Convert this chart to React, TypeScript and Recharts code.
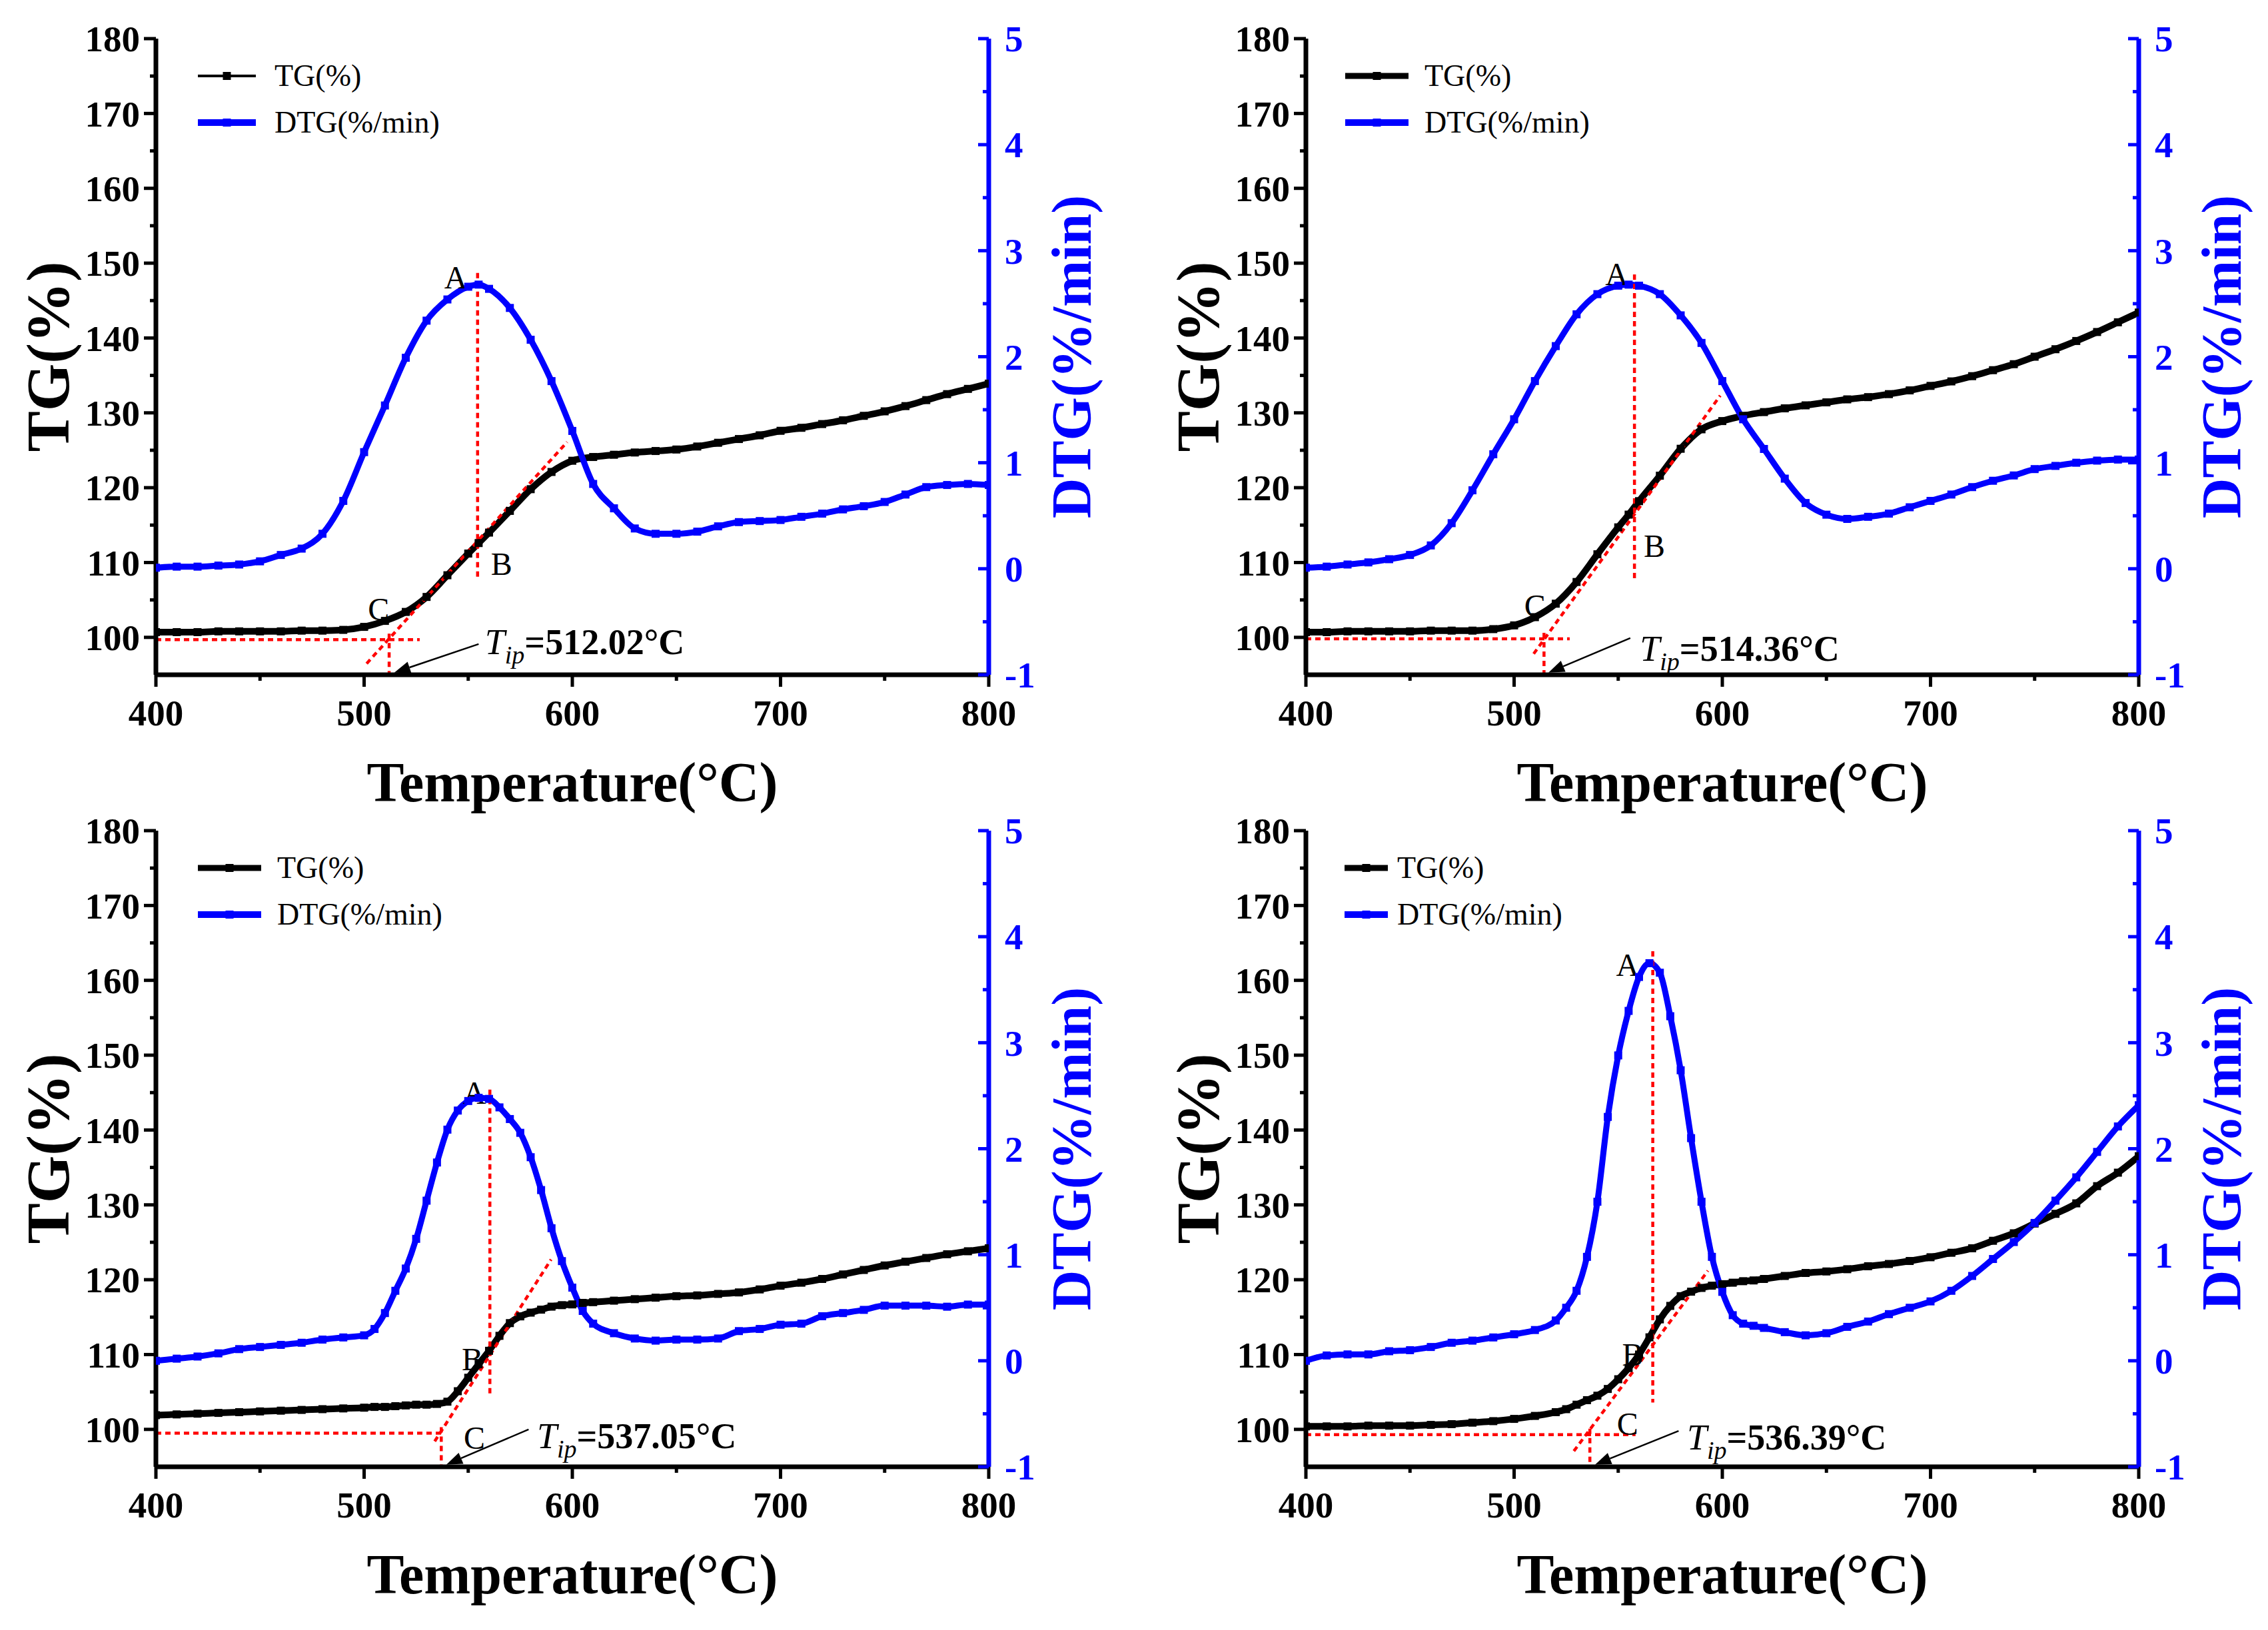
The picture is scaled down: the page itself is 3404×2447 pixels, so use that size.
import React from 'react';
import { LineChart, Line, XAxis, YAxis, ReferenceLine, ReferenceDot, Legend } from 'recharts';

const FONT = '"Liberation Serif", "Times New Roman", Times, serif';
const BLUE = '#0000FF';
const RED = '#FF0000';
const TG_NAME = 'TG(%)';
const DTG_NAME = 'DTG(%/min)';

// temperature (°C) sample points per panel
const tempA = [400, 410, 420, 430, 440, 450, 460, 470, 480, 490, 500, 510, 520, 530, 540, 550, 555, 560, 570, 580, 590, 600, 610, 620, 630, 640, 650, 660, 670, 680, 690, 700, 710, 720, 730, 740, 750, 760, 770, 780, 790, 800];
const tgA = [100.7, 100.7, 100.7, 100.8, 100.8, 100.8, 100.8, 100.9, 100.9, 101.0, 101.4, 102.2, 103.4, 105.4, 108.3, 111.2, 112.6, 114.0, 116.9, 119.8, 122.1, 123.6, 124.1, 124.4, 124.7, 124.9, 125.1, 125.5, 126.0, 126.5, 127.0, 127.6, 128.0, 128.5, 129.0, 129.6, 130.2, 130.9, 131.7, 132.5, 133.2, 133.9];
const dtgA = [0.01, 0.02, 0.02, 0.03, 0.04, 0.07, 0.13, 0.19, 0.33, 0.64, 1.10, 1.54, 1.99, 2.34, 2.54, 2.66, 2.68, 2.64, 2.46, 2.16, 1.77, 1.30, 0.80, 0.57, 0.38, 0.33, 0.33, 0.35, 0.40, 0.44, 0.45, 0.46, 0.49, 0.52, 0.56, 0.59, 0.63, 0.70, 0.77, 0.79, 0.80, 0.79];

const tempB = tempA;
const tgB = [100.7, 100.7, 100.8, 100.8, 100.8, 100.8, 100.9, 100.9, 100.9, 101.1, 101.6, 102.7, 104.5, 107.4, 111.1, 114.7, 116.4, 118.2, 121.6, 125.2, 127.8, 128.9, 129.6, 130.1, 130.6, 131.0, 131.4, 131.8, 132.1, 132.5, 133.0, 133.6, 134.2, 134.9, 135.7, 136.5, 137.5, 138.5, 139.6, 140.8, 142.1, 143.4];
const dtgB = [0.01, 0.02, 0.04, 0.06, 0.09, 0.13, 0.22, 0.43, 0.74, 1.08, 1.41, 1.77, 2.10, 2.40, 2.59, 2.67, 2.68, 2.67, 2.59, 2.39, 2.13, 1.77, 1.41, 1.13, 0.85, 0.62, 0.51, 0.47, 0.49, 0.52, 0.58, 0.64, 0.70, 0.77, 0.83, 0.88, 0.94, 0.97, 1.00, 1.02, 1.03, 1.03];

const tempC = [400, 410, 420, 430, 440, 450, 460, 470, 480, 490, 500, 505, 510, 515, 520, 525, 530, 535, 540, 545, 550, 555, 560, 565, 570, 575, 580, 585, 590, 595, 600, 605, 610, 620, 630, 640, 650, 660, 670, 680, 690, 700, 710, 720, 730, 740, 750, 760, 770, 780, 790, 800];
const tgC = [101.9, 102.0, 102.1, 102.2, 102.3, 102.4, 102.5, 102.6, 102.7, 102.8, 102.9, 103.0, 103.0, 103.1, 103.2, 103.3, 103.3, 103.4, 103.7, 105.1, 106.9, 108.7, 110.5, 112.5, 114.2, 115.1, 115.6, 116.0, 116.4, 116.6, 116.7, 116.9, 117.0, 117.2, 117.4, 117.6, 117.8, 117.9, 118.1, 118.3, 118.7, 119.2, 119.6, 120.1, 120.7, 121.3, 121.9, 122.4, 122.9, 123.4, 123.8, 124.2];
const dtgC = [0.0, 0.02, 0.04, 0.07, 0.11, 0.13, 0.15, 0.17, 0.20, 0.22, 0.24, 0.30, 0.45, 0.66, 0.87, 1.15, 1.51, 1.87, 2.18, 2.36, 2.45, 2.48, 2.47, 2.39, 2.28, 2.15, 1.92, 1.61, 1.25, 0.94, 0.69, 0.47, 0.35, 0.26, 0.21, 0.19, 0.20, 0.20, 0.21, 0.28, 0.30, 0.34, 0.35, 0.42, 0.45, 0.48, 0.52, 0.52, 0.52, 0.51, 0.53, 0.53];

const tempD = [400, 410, 420, 430, 440, 450, 460, 470, 480, 490, 500, 510, 520, 525, 530, 535, 540, 545, 550, 555, 560, 565, 570, 575, 580, 585, 590, 595, 600, 605, 610, 615, 620, 630, 640, 650, 660, 670, 680, 690, 700, 710, 720, 730, 740, 750, 760, 770, 780, 790, 800];
const tgD = [100.4, 100.4, 100.4, 100.5, 100.5, 100.5, 100.6, 100.7, 100.9, 101.1, 101.4, 101.8, 102.3, 102.7, 103.3, 103.9, 104.5, 105.4, 106.7, 108.2, 110.0, 112.3, 114.7, 116.5, 117.8, 118.4, 118.9, 119.2, 119.4, 119.6, 119.8, 119.9, 120.1, 120.5, 120.9, 121.1, 121.4, 121.8, 122.1, 122.5, 123.0, 123.6, 124.2, 125.2, 126.2, 127.5, 128.8, 130.2, 132.5, 134.3, 136.5];
const dtgD = [0.0, 0.05, 0.06, 0.06, 0.09, 0.10, 0.13, 0.17, 0.19, 0.22, 0.25, 0.29, 0.38, 0.50, 0.66, 0.98, 1.50, 2.30, 2.88, 3.30, 3.62, 3.75, 3.66, 3.25, 2.74, 2.10, 1.50, 0.98, 0.65, 0.43, 0.35, 0.33, 0.31, 0.27, 0.24, 0.26, 0.32, 0.37, 0.44, 0.50, 0.56, 0.66, 0.80, 0.96, 1.12, 1.30, 1.51, 1.73, 1.97, 2.21, 2.41];

// axis ticks
const xTicks = [400, 450, 500, 550, 600, 650, 700, 750, 800];
const tgTicks = [100, 105, 110, 115, 120, 125, 130, 135, 140, 145, 150, 155, 160, 165, 170, 175, 180];
const dtgTicks = [-1, -0.5, 0, 0.5, 1, 1.5, 2, 2.5, 3, 3.5, 4, 4.5, 5];

// construction lines and labels (temperature, TG units)
const annA = { peak: [554.5, 148.7, 107.6], tangent: [[501.2, 96.5], [597.5, 126.1]], onset: [99.7, 526.7], tip: '512.02', tipX: 512.02, A: [544, 148.1], B: [566, 109.8], C: [507, 103.8], text: [558, 97.8], arrow: [[555, 99.1], [514.5, 95.3]] };
const annB = { peak: [557.8, 148.5, 107.4], tangent: [[509.4, 97.8], [599, 132.3]], onset: [99.8, 526.7], tip: '514.36', tipX: 514.36, A: [549.3, 148.5], B: [567.4, 112.2], C: [510, 104.2], text: [560.4, 96.9], arrow: [[555.8, 99.9], [516.5, 95.3]] };
const annC = { peak: [560.4, 145.4, 104.4], tangent: [[533.9, 98.4], [589.8, 122.7]], onset: [99.5, 537.7], tip: '537.05', tipX: 537.05, A: [553, 145.0], B: [552, 109.4], C: [553, 98.9], text: [583, 97.5], arrow: [[579, 100.0], [539.5, 95.3]] };
const annD = { peak: [566.6, 163.9, 103.6], tangent: [[528.7, 97.1], [593.1, 121.2]], onset: [99.3, 558.3], tip: '536.39', tipX: 536.39, A: [554.5, 162.1], B: [557, 110.0], C: [554.5, 100.7], text: [583, 97.3], arrow: [[579, 99.8], [538.9, 95.3]] };

const tickFont = { fontFamily: FONT, fontWeight: 'bold' as const, fontSize: 55 };

function LeftTick(props: any) {
  const { x, y, payload } = props;
  const major = payload.value % 10 === 0;
  return (
    <g>
      <line x1={x} x2={x - (major ? 18 : 9)} y1={y} y2={y} stroke="#000" strokeWidth={5} />
      {major && (
        <text x={x - 24} y={y} dy="0.35em" textAnchor="end" fill="#000" {...tickFont}>{payload.value}</text>
      )}
    </g>
  );
}

function RightTick(props: any) {
  const { x, y, payload } = props;
  const major = Number.isInteger(payload.value);
  return (
    <g>
      <line x1={x} x2={x - (major ? 16 : 9)} y1={y} y2={y} stroke={BLUE} strokeWidth={5} />
      {major && (
        <text x={x + 24} y={y} dy="0.35em" textAnchor="start" fill={BLUE} {...tickFont}>{payload.value}</text>
      )}
    </g>
  );
}

function BottomTick(props: any) {
  const { x, y, payload } = props;
  const major = payload.value % 100 === 0;
  return (
    <g>
      <line x1={x} x2={x} y1={y} y2={y + (major ? 18 : 9)} stroke="#000" strokeWidth={5} />
      {major && (
        <text x={x} y={y + 76} textAnchor="middle" fill="#000" {...tickFont}>{payload.value}</text>
      )}
    </g>
  );
}

function Arrow(p: any) {
  const { x1, y1, x2, y2 } = p;
  const ang = Math.atan2(y2 - y1, x2 - x1);
  const L = 24;
  const W = 9;
  const bx = x2 - L * Math.cos(ang);
  const by = y2 - L * Math.sin(ang);
  const pts = `${x2},${y2} ${bx + W * Math.sin(ang)},${by - W * Math.cos(ang)} ${bx - W * Math.sin(ang)},${by + W * Math.cos(ang)}`;
  return (
    <g>
      <line x1={x1} y1={y1} x2={bx} y2={by} stroke="#000" strokeWidth={2.5} />
      <polygon points={pts} fill="#000" />
    </g>
  );
}

const letter = (s: string) => (p: any) => (
  <text x={p.cx} y={p.cy} textAnchor="middle" dominantBaseline="central" fontFamily={FONT} fontSize={48} fill="#000">{s}</text>
);

const tipLabel = (v: string) => (p: any) => (
  <text x={p.cx} y={p.cy} fontFamily={FONT} fontSize={54} fill="#000">
    <tspan fontStyle="italic">T</tspan>
    <tspan fontStyle="italic" fontSize={38} dy={14}>ip</tspan>
    <tspan fontWeight="bold" dy={-14}>={v}°C</tspan>
  </text>
);

const squareDot = (color: string) => (p: any) => (
  <rect key={`d${p.index}`} x={p.cx - 6} y={p.cy - 6} width={12} height={12} fill={color} />
);

const legendContent = (tgW: number, len: number, gap: number) => (props: any) => {
  const items = [...(props.payload || [])].sort((a: any, b: any) => (a.value === TG_NAME ? -1 : b.value === TG_NAME ? 1 : 0));
  return (
    <div style={{ fontFamily: FONT, fontSize: 46, color: '#000' }}>
      {items.map((e: any) => (
        <div key={e.value} style={{ display: 'flex', alignItems: 'center', height: 70 }}>
          <svg width={len} height={24}>
            <line x1={0} x2={len} y1={12} y2={12} stroke={e.color} strokeWidth={e.value === TG_NAME ? tgW : 10} />
            <rect x={len / 2 - 6} y={6} width={12} height={12} fill={e.color} />
          </svg>
          <span style={{ marginLeft: gap, lineHeight: 1 }}>{e.value}</span>
        </div>
      ))}
    </div>
  );
};

function Panel({ tag, temps, tg, dtg, ann, tgW, len, gap, legendLeft }: any) {
  const tgData = temps.map((t: number, i: number) => ({ t, v: tg[i] }));
  const dtgData = temps.map((t: number, i: number) => ({ t, v: dtg[i] }));
  const dotted = { stroke: RED, strokeWidth: 4.5, strokeDasharray: '8 6' };
  return (
    <LineChart width={1700} height={1245} margin={{ top: 58, right: 0, bottom: 0, left: 0 }}>
      <XAxis
        dataKey="t" type="number" domain={[400, 800]} ticks={xTicks} interval={0} allowDataOverflow
        height={232} tickSize={0} tickMargin={0} tickLine={false} tick={<BottomTick />}
        axisLine={{ stroke: '#000', strokeWidth: 7 }}
        label={{
          content: (p: any) => (
            <text x={p.viewBox.x + p.viewBox.width / 2} y={p.viewBox.y + 190} textAnchor="middle" fontFamily={FONT} fontWeight="bold" fontSize={84} fill="#000">Temperature(°C)</text>
          ),
        }}
      />
      <XAxis
        xAxisId="top" orientation="top" dataKey="t" type="number" domain={[400, 800]} height={0}
        tick={false} tickLine={false} axisLine={{ stroke: '#000', strokeWidth: 6 }}
        label={{
          content: (p: any) => (
            <text x={p.viewBox.x + p.viewBox.width - 22} y={p.viewBox.y + 116} textAnchor="end" fontFamily={FONT} fontWeight="bold" fontSize={80} fill="#000">({tag})</text>
          ),
        }}
      />
      <YAxis
        yAxisId="tg" orientation="left" type="number" domain={[95, 180]} ticks={tgTicks} interval={0} allowDataOverflow
        width={234} tickSize={0} tickMargin={0} tickLine={false} tick={<LeftTick />}
        axisLine={{ stroke: '#000', strokeWidth: 7 }}
        label={{
          content: (p: any) => {
            const cx = p.viewBox.x + 72;
            const cy = p.viewBox.y + p.viewBox.height / 2;
            return (
              <text x={cx} y={cy} transform={`rotate(-90, ${cx}, ${cy})`} textAnchor="middle" dominantBaseline="central" fontFamily={FONT} fontWeight="bold" fontSize={92} fill="#000">TG(%)</text>
            );
          },
        }}
      />
      <YAxis
        yAxisId="dtg" orientation="right" type="number" domain={[-1, 5]} ticks={dtgTicks} interval={0} allowDataOverflow
        width={216} tickSize={0} tickMargin={0} tickLine={false} tick={<RightTick />}
        axisLine={{ stroke: BLUE, strokeWidth: 7 }}
        label={{
          content: (p: any) => {
            const cx = p.viewBox.x + 124;
            const cy = p.viewBox.y + p.viewBox.height / 2;
            return (
              <text x={cx} y={cy} transform={`rotate(-90, ${cx}, ${cy})`} textAnchor="middle" dominantBaseline="central" fontFamily={FONT} fontWeight="bold" fontSize={84} fill={BLUE}>DTG(%/min)</text>
            );
          },
        }}
      />
      <Legend
        layout="vertical" align="center" verticalAlign="middle"
        wrapperStyle={{ left: legendLeft, top: 79, width: 700, height: 140 }}
        content={legendContent(tgW, len, gap)}
      />
      <Line yAxisId="tg" data={tgData} dataKey="v" name={TG_NAME} type="monotone" stroke="#000" strokeWidth={10} dot={squareDot('#000')} activeDot={false} isAnimationActive={false} />
      <Line yAxisId="dtg" data={dtgData} dataKey="v" name={DTG_NAME} type="monotone" stroke={BLUE} strokeWidth={9} dot={squareDot(BLUE)} activeDot={false} isAnimationActive={false} />

      <ReferenceLine yAxisId="tg" ifOverflow="visible" segment={[{ x: ann.peak[0], y: ann.peak[1] }, { x: ann.peak[0], y: ann.peak[2] }]} {...dotted} />
      <ReferenceLine yAxisId="tg" ifOverflow="visible" segment={[{ x: ann.tangent[0][0], y: ann.tangent[0][1] }, { x: ann.tangent[1][0], y: ann.tangent[1][1] }]} {...dotted} />
      <ReferenceLine yAxisId="tg" ifOverflow="visible" segment={[{ x: 400, y: ann.onset[0] }, { x: ann.onset[1], y: ann.onset[0] }]} {...dotted} />
      <ReferenceLine yAxisId="tg" ifOverflow="visible" segment={[{ x: ann.tipX, y: ann.onset[0] + 0.8 }, { x: ann.tipX, y: 95 }]} {...dotted} />
      <ReferenceLine yAxisId="tg" ifOverflow="visible" segment={[{ x: ann.arrow[0][0], y: ann.arrow[0][1] }, { x: ann.arrow[1][0], y: ann.arrow[1][1] }]} shape={Arrow} />

      <ReferenceDot yAxisId="tg" ifOverflow="visible" x={ann.A[0]} y={ann.A[1]} r={0} shape={letter('A')} />
      <ReferenceDot yAxisId="tg" ifOverflow="visible" x={ann.B[0]} y={ann.B[1]} r={0} shape={letter('B')} />
      <ReferenceDot yAxisId="tg" ifOverflow="visible" x={ann.C[0]} y={ann.C[1]} r={0} shape={letter('C')} />
      <ReferenceDot yAxisId="tg" ifOverflow="visible" x={ann.text[0]} y={ann.text[1]} r={0} shape={tipLabel(ann.tip)} />
    </LineChart>
  );
}

export default function App() {
  return (
    <div style={{ position: 'absolute', left: 0, top: 0, width: 3404, height: 2447, overflow: 'hidden', background: '#fff' }}>
      <div style={{ position: 'absolute', left: 0, top: 0 }}>
        <Panel tag="a" temps={tempA} tg={tgA} dtg={dtgA} ann={annA} tgW={4} len={87} gap={28} legendLeft={297} />
      </div>
      <div style={{ position: 'absolute', left: 1726, top: 0 }}>
        <Panel tag="b" temps={tempB} tg={tgB} dtg={dtgB} ann={annB} tgW={9} len={95} gap={24} legendLeft={293} />
      </div>
      <div style={{ position: 'absolute', left: 0, top: 1189 }}>
        <Panel tag="c" temps={tempC} tg={tgC} dtg={dtgC} ann={annC} tgW={9} len={95} gap={24} legendLeft={297} />
      </div>
      <div style={{ position: 'absolute', left: 1726, top: 1189 }}>
        <Panel tag="d" temps={tempD} tg={tgD} dtg={dtgD} ann={annD} tgW={9} len={65} gap={14} legendLeft={292} />
      </div>
    </div>
  );
}
